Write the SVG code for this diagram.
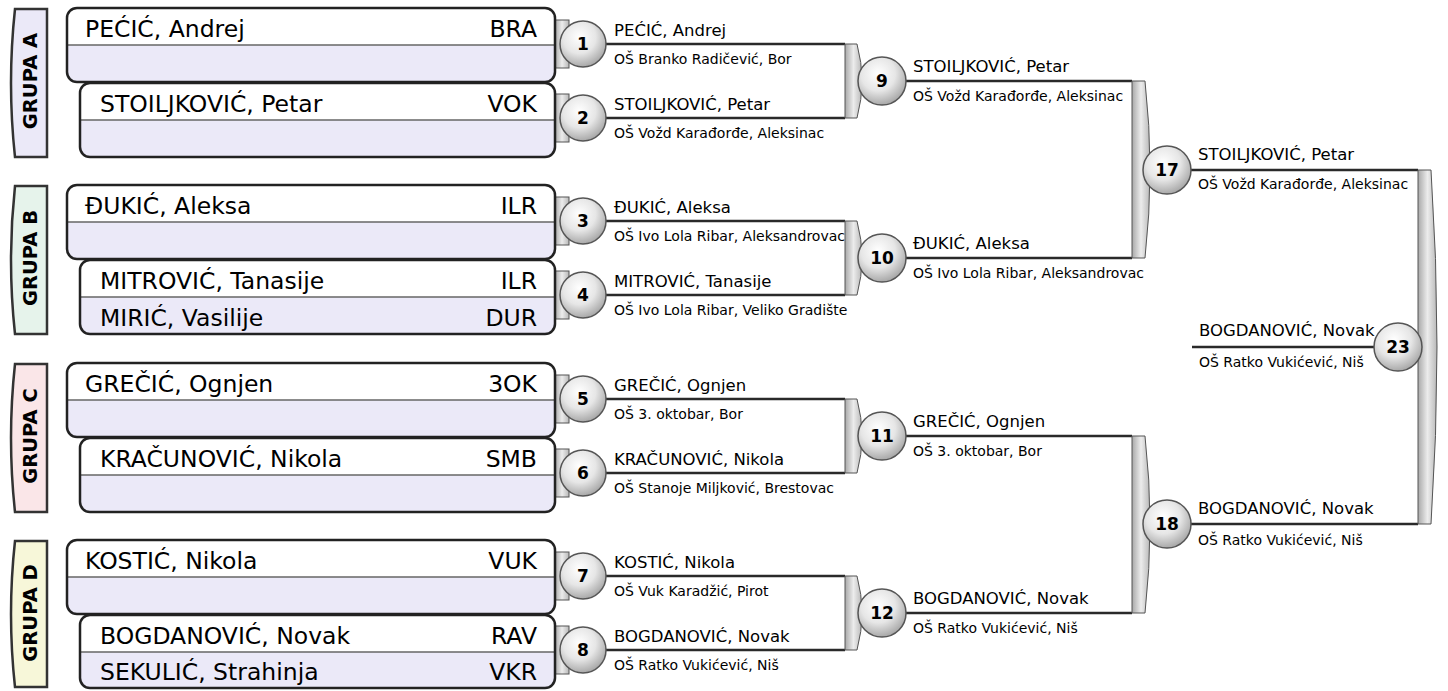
<svg xmlns="http://www.w3.org/2000/svg" width="1448" height="691" viewBox="0 0 1448 691">
<style>
text{font-family:"DejaVu Sans","Liberation Sans",sans-serif;fill:#000}
.gl{font-size:19.5px;font-weight:bold;text-anchor:middle}
.pn{font-size:23.5px}
.pc{font-size:23.5px;text-anchor:end}
.mn{font-size:16.5px}
.ms{font-size:14px}
.num{font-size:17px;font-weight:bold;text-anchor:middle}
.tab{stroke:#333;stroke-width:2.5}
.bg{fill:#ebe9f8}
.top{fill:#fff}
.div{stroke:#666;stroke-width:1.5}
.ol{fill:none;stroke:#222;stroke-width:2.5}
.ln{stroke:#2a2a2a;stroke-width:2.5;fill:none}
.br{fill:url(#bgr);stroke:#555;stroke-width:1}
.c{fill:url(#cg);stroke:#555;stroke-width:1.5}
</style>
<defs>
<linearGradient id="bgr" x1="0" y1="0" x2="1" y2="0">
<stop offset="0" stop-color="#a8a8a8"/>
<stop offset="0.5" stop-color="#ececec"/>
<stop offset="1" stop-color="#b8b8b8"/>
</linearGradient>
<radialGradient id="cg" cx="0.42" cy="0.35" r="0.65">
<stop offset="0" stop-color="#ffffff"/>
<stop offset="0.55" stop-color="#e6e6e6"/>
<stop offset="1" stop-color="#a9a9a9"/>
</radialGradient>
</defs>

<g id="connectors">
<path class="ln" d="M583,44H845M583,118H845M583,221H845M583,295H845M583,399H845M583,473H845M583,576H845M583,650H845"/>
<path class="ln" d="M882,81H1132M882,258H1132M882,436H1132M882,613H1132"/>
<path class="ln" d="M1167,170H1418M1167,524H1418"/>
<path class="ln" d="M1192,347H1398"/>
<rect class="br" x="555" y="20" width="14" height="48"/>
<rect class="br" x="555" y="94" width="14" height="48"/>
<rect class="br" x="555" y="197" width="14" height="48"/>
<rect class="br" x="555" y="271" width="14" height="48"/>
<rect class="br" x="555" y="375" width="14" height="48"/>
<rect class="br" x="555" y="449" width="14" height="48"/>
<rect class="br" x="555" y="552" width="14" height="48"/>
<rect class="br" x="555" y="626" width="14" height="48"/>
<path class="br" d="M845,44L857,44Q867,81 857,118L845,118Z"/>
<path class="br" d="M845,221L857,221Q867,258 857,295L845,295Z"/>
<path class="br" d="M845,399L857,399Q867,436 857,473L845,473Z"/>
<path class="br" d="M845,576L857,576Q867,613 857,650L845,650Z"/>
<path class="br" d="M1132,81L1145,81Q1155,170 1145,258L1132,258Z"/>
<path class="br" d="M1132,436L1145,436Q1155,524 1145,613L1132,613Z"/>
<path class="br" d="M1418,170L1431,170Q1443,347 1431,524L1418,524Z"/>
</g>

<g id="group-a">
<path class="tab" fill="#ebe9f8" d="M47,9L15,9Q7,83 15,157L47,157Z"/>
<text class="gl" transform="translate(37,81) rotate(-90)">GRUPA A</text>
<rect class="bg" x="67" y="8" width="488" height="74" rx="10"/>
<path class="top" d="M67,45V18A10,10 0 0 1 77,8H545A10,10 0 0 1 555,18V45Z"/>
<line class="div" x1="67" y1="45" x2="555" y2="45"/>
<rect class="ol" x="67" y="8" width="488" height="74" rx="10"/>
<text class="pn" x="85" y="37">PEĆIĆ, Andrej</text>
<text class="pc" x="537" y="37">BRA</text>
<rect class="bg" x="80" y="83" width="475" height="74" rx="10"/>
<path class="top" d="M80,120V93A10,10 0 0 1 90,83H545A10,10 0 0 1 555,93V120Z"/>
<line class="div" x1="80" y1="120" x2="555" y2="120"/>
<rect class="ol" x="80" y="83" width="475" height="74" rx="10"/>
<text class="pn" x="100" y="112">STOILJKOVIĆ, Petar</text>
<text class="pc" x="537" y="112">VOK</text>
</g>

<g id="group-b">
<path class="tab" fill="#e6f3eb" d="M47,186L15,186Q7,260 15,334L47,334Z"/>
<text class="gl" transform="translate(37,258) rotate(-90)">GRUPA B</text>
<rect class="bg" x="67" y="185" width="488" height="74" rx="10"/>
<path class="top" d="M67,222V195A10,10 0 0 1 77,185H545A10,10 0 0 1 555,195V222Z"/>
<line class="div" x1="67" y1="222" x2="555" y2="222"/>
<rect class="ol" x="67" y="185" width="488" height="74" rx="10"/>
<text class="pn" x="85" y="214">ĐUKIĆ, Aleksa</text>
<text class="pc" x="537" y="214">ILR</text>
<rect class="bg" x="80" y="260" width="475" height="74" rx="10"/>
<path class="top" d="M80,297V270A10,10 0 0 1 90,260H545A10,10 0 0 1 555,270V297Z"/>
<line class="div" x1="80" y1="297" x2="555" y2="297"/>
<rect class="ol" x="80" y="260" width="475" height="74" rx="10"/>
<text class="pn" x="100" y="289">MITROVIĆ, Tanasije</text>
<text class="pc" x="537" y="289">ILR</text>
<text class="pn" x="100" y="326">MIRIĆ, Vasilije</text>
<text class="pc" x="537" y="326">DUR</text>
</g>

<g id="group-c">
<path class="tab" fill="#fae6e8" d="M47,364L15,364Q7,438 15,512L47,512Z"/>
<text class="gl" transform="translate(37,436) rotate(-90)">GRUPA C</text>
<rect class="bg" x="67" y="363" width="488" height="74" rx="10"/>
<path class="top" d="M67,400V373A10,10 0 0 1 77,363H545A10,10 0 0 1 555,373V400Z"/>
<line class="div" x1="67" y1="400" x2="555" y2="400"/>
<rect class="ol" x="67" y="363" width="488" height="74" rx="10"/>
<text class="pn" x="85" y="392">GREČIĆ, Ognjen</text>
<text class="pc" x="537" y="392">3OK</text>
<rect class="bg" x="80" y="438" width="475" height="74" rx="10"/>
<path class="top" d="M80,475V448A10,10 0 0 1 90,438H545A10,10 0 0 1 555,448V475Z"/>
<line class="div" x1="80" y1="475" x2="555" y2="475"/>
<rect class="ol" x="80" y="438" width="475" height="74" rx="10"/>
<text class="pn" x="100" y="467">KRAČUNOVIĆ, Nikola</text>
<text class="pc" x="537" y="467">SMB</text>
</g>

<g id="group-d">
<path class="tab" fill="#f7f7d9" d="M47,541L15,541Q7,614 15,687L47,687Z"/>
<text class="gl" transform="translate(37,613) rotate(-90)">GRUPA D</text>
<rect class="bg" x="67" y="540" width="488" height="74" rx="10"/>
<path class="top" d="M67,577V550A10,10 0 0 1 77,540H545A10,10 0 0 1 555,550V577Z"/>
<line class="div" x1="67" y1="577" x2="555" y2="577"/>
<rect class="ol" x="67" y="540" width="488" height="74" rx="10"/>
<text class="pn" x="85" y="569">KOSTIĆ, Nikola</text>
<text class="pc" x="537" y="569">VUK</text>
<rect class="bg" x="80" y="615" width="475" height="73" rx="10"/>
<path class="top" d="M80,652V625A10,10 0 0 1 90,615H545A10,10 0 0 1 555,625V652Z"/>
<line class="div" x1="80" y1="652" x2="555" y2="652"/>
<rect class="ol" x="80" y="615" width="475" height="73" rx="10"/>
<text class="pn" x="100" y="644">BOGDANOVIĆ, Novak</text>
<text class="pc" x="537" y="644">RAV</text>
<text class="pn" x="100" y="680">SEKULIĆ, Strahinja</text>
<text class="pc" x="537" y="680">VKR</text>
</g>

<g id="m1"><circle class="c" cx="583" cy="44" r="23"/><text class="num" x="583" y="50">1</text><text class="mn" x="614" y="36">PEĆIĆ, Andrej</text><text class="ms" x="614" y="64">OŠ Branko Radičević, Bor</text></g>
<g id="m2"><circle class="c" cx="583" cy="118" r="23"/><text class="num" x="583" y="124">2</text><text class="mn" x="614" y="110">STOILJKOVIĆ, Petar</text><text class="ms" x="614" y="138">OŠ Vožd Karađorđe, Aleksinac</text></g>
<g id="m3"><circle class="c" cx="583" cy="221" r="23"/><text class="num" x="583" y="227">3</text><text class="mn" x="614" y="213">ĐUKIĆ, Aleksa</text><text class="ms" x="614" y="241">OŠ Ivo Lola Ribar, Aleksandrovac</text></g>
<g id="m4"><circle class="c" cx="583" cy="295" r="23"/><text class="num" x="583" y="301">4</text><text class="mn" x="614" y="287">MITROVIĆ, Tanasije</text><text class="ms" x="614" y="315">OŠ Ivo Lola Ribar, Veliko Gradište</text></g>
<g id="m5"><circle class="c" cx="583" cy="399" r="23"/><text class="num" x="583" y="405">5</text><text class="mn" x="614" y="391">GREČIĆ, Ognjen</text><text class="ms" x="614" y="419">OŠ 3. oktobar, Bor</text></g>
<g id="m6"><circle class="c" cx="583" cy="473" r="23"/><text class="num" x="583" y="479">6</text><text class="mn" x="614" y="465">KRAČUNOVIĆ, Nikola</text><text class="ms" x="614" y="493">OŠ Stanoje Miljković, Brestovac</text></g>
<g id="m7"><circle class="c" cx="583" cy="576" r="23"/><text class="num" x="583" y="582">7</text><text class="mn" x="614" y="568">KOSTIĆ, Nikola</text><text class="ms" x="614" y="596">OŠ Vuk Karadžić, Pirot</text></g>
<g id="m8"><circle class="c" cx="583" cy="650" r="23"/><text class="num" x="583" y="656">8</text><text class="mn" x="614" y="642">BOGDANOVIĆ, Novak</text><text class="ms" x="614" y="670">OŠ Ratko Vukićević, Niš</text></g>

<g id="m9"><circle class="c" cx="882" cy="81" r="24"/><text class="num" x="882" y="87">9</text><text class="mn" x="913" y="72">STOILJKOVIĆ, Petar</text><text class="ms" x="913" y="101">OŠ Vožd Karađorđe, Aleksinac</text></g>
<g id="m10"><circle class="c" cx="882" cy="258" r="24"/><text class="num" x="882" y="264">10</text><text class="mn" x="913" y="249">ĐUKIĆ, Aleksa</text><text class="ms" x="913" y="278">OŠ Ivo Lola Ribar, Aleksandrovac</text></g>
<g id="m11"><circle class="c" cx="882" cy="436" r="24"/><text class="num" x="882" y="442">11</text><text class="mn" x="913" y="427">GREČIĆ, Ognjen</text><text class="ms" x="913" y="456">OŠ 3. oktobar, Bor</text></g>
<g id="m12"><circle class="c" cx="882" cy="613" r="24"/><text class="num" x="882" y="619">12</text><text class="mn" x="913" y="604">BOGDANOVIĆ, Novak</text><text class="ms" x="913" y="633">OŠ Ratko Vukićević, Niš</text></g>

<g id="m17"><circle class="c" cx="1167" cy="170" r="24"/><text class="num" x="1167" y="176">17</text><text class="mn" x="1198" y="160">STOILJKOVIĆ, Petar</text><text class="ms" x="1198" y="189">OŠ Vožd Karađorđe, Aleksinac</text></g>
<g id="m18"><circle class="c" cx="1167" cy="524" r="24"/><text class="num" x="1167" y="530">18</text><text class="mn" x="1198" y="514">BOGDANOVIĆ, Novak</text><text class="ms" x="1198" y="545">OŠ Ratko Vukićević, Niš</text></g>

<g id="m23"><circle class="c" cx="1398" cy="347" r="24"/><text class="num" x="1398" y="353">23</text><text class="mn" x="1199" y="336">BOGDANOVIĆ, Novak</text><text class="ms" x="1199" y="367">OŠ Ratko Vukićević, Niš</text></g>
</svg>
